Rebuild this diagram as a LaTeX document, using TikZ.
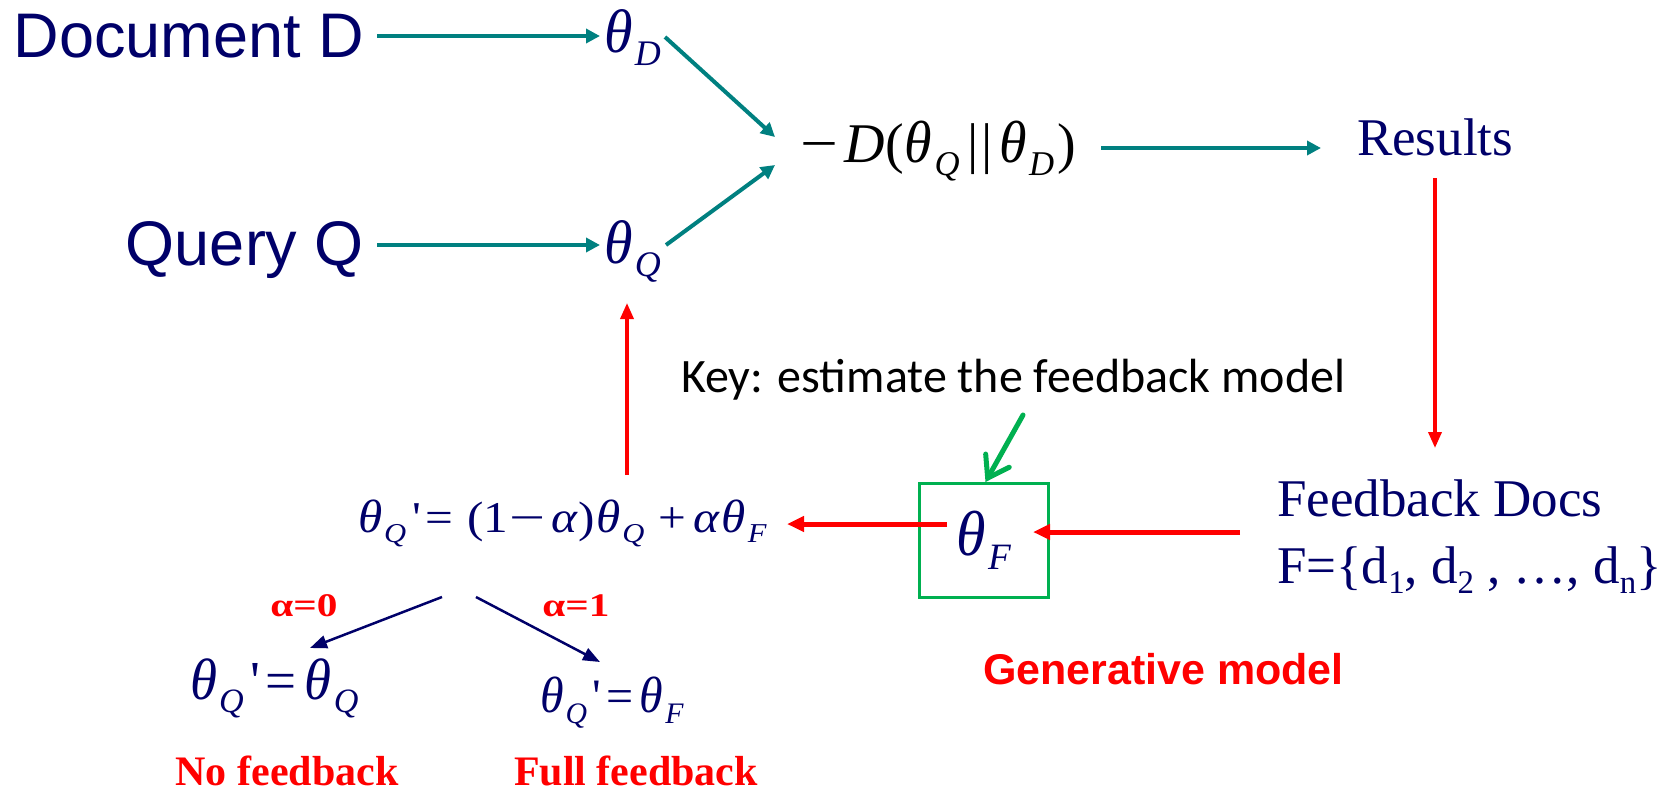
\documentclass[tikz,border=0pt]{standalone}
\usepackage{fontspec}
\setmainfont{Liberation Serif}
\newfontfamily\arialf{Liberation Sans}
\newfontfamily\calibrif{Carlito}
\usetikzlibrary{arrows.meta}
\definecolor{navyc}{RGB}{0,0,105}
\definecolor{tealc}{RGB}{0,128,128}
\definecolor{redc}{RGB}{255,0,0}
\definecolor{greenc}{RGB}{0,176,80}
\newcommand\fs[1]{\fontsize{#1}{#1}\selectfont}
\newcommand\ssub[1]{\raisebox{-0.24em}{\scalebox{0.62}{\itshape #1}}}
\newcommand\usub[1]{\raisebox{-0.2em}{\scalebox{0.62}{#1}}}
\newcommand\thg{\scalebox{1}[1.06]{\itshape θ}}
\newcommand\thx[1]{\thg\kern0.04em\ssub{#1}}
\newcommand\prm{\textquotesingle}
\newcommand\mminus{\scalebox{1.3}[1]{−}}
\begin{document}
\begin{tikzpicture}[x=1pt,y=-1pt,
  every node/.style={inner sep=0pt,outer sep=0pt},
  tarrow/.style={draw=tealc,line width=4pt,-{Triangle[length=14pt,width=14pt]}},
  rarrow/.style={draw=redc,line width=5pt,-{Triangle[length=17pt,width=15pt]}},
  rvarrow/.style={draw=redc,line width=3.5pt,-{Triangle[length=16pt,width=13pt]}},
  barrow/.style={draw=navyc,line width=2.5pt,-{Triangle[length=17pt,width=13pt]}},
  garrow/.style={draw=greenc,line width=5pt,line cap=round,-{Straight Barb[length=20pt,width=27pt,line cap=round]}},
  bigsans/.style={text=navyc,font=\arialf\fs{63}},
  serif/.style={text=navyc,font=\fs{53}},
  redbold/.style={text=redc,font=\bfseries\fs{42}}]
\useasboundingbox (0,0) rectangle (1679,793);

% top-left inputs
\node[bigsans,anchor=base east] (docD) at (364,57) {Document D};
\node[bigsans,anchor=base east] (query) at (364,265) {Query Q};
\node[text=navyc,font=\fs{58},anchor=base west] (thD) at (604,52) {\thx{D}};
\node[text=navyc,font=\fs{58},anchor=base west] (thQ) at (604,263) {\thx{Q}};

% KL expression
\node[font=\fs{56},anchor=base west] (expr) at (800,162)
  {\scalebox{1.2}[1]{−}\kern0.12em\textit{D}(\kern0.02em\thx{Q}\kern0.14em|\kern0.05em|\kern0.12em\thx{D}\kern0.06em)};
\node[serif,anchor=base west] (res) at (1357,155) {Results};

% feedback docs
\node[serif,anchor=base west] (fb) at (1277,516) {Feedback Docs};
\node[serif,anchor=base west] (fset) at (1277,583)
  {F=\{d\usub{1}, d\usub{2} , …, d\usub{n}\}};

% key label and box
\node[font=\calibrif\fs{48},anchor=base west] (key) at (681,392) {Key: estimate the feedback model};
\node[draw=greenc,line width=3pt,minimum width=129pt,minimum height=114pt,
      text=navyc,font=\fs{60}] (box) at (983.5,540) {\thx{F}};
\node[text=redc,font=\arialf\bfseries\fs{43},anchor=base west] (gen) at (983,684) {Generative model};

% update formula
\node[text=navyc,font=\fs{44},anchor=base west] (form) at (358,532)
  {\scalebox{1.12}[1]{\thx{Q}\kern0.12em\prm\kern0.1em=\kern0.28em(1\kern0.02em\mminus\kern0.12em\textit{α})\kern0.03em\thx{Q}\kern0.28em+\kern0.15em\textit{α}\kern0.03em\thx{F}}};

% special cases
\node[text=redc,font=\bfseries\fs{33},anchor=center] (a0) at (304,606) {\scalebox{1.25}[1]{α=0}};
\node[text=redc,font=\bfseries\fs{33},anchor=center] (a1) at (576,606) {\scalebox{1.25}[1]{α=1}};
\node[text=navyc,font=\fs{55},anchor=base west] (lowL) at (190,699)
  {\thx{Q}\kern0.12em\prm\kern0.1em=\kern0.14em\thx{Q}};
\node[text=navyc,font=\fs{48},anchor=base west] (lowR) at (540,712)
  {\thx{Q}\kern0.12em\prm\kern0.1em=\kern0.14em\thx{F}};
\node[redbold,anchor=base] (nofb) at (287,785) {No feedback};
\node[redbold,anchor=base] (fullfb) at (636,785) {Full feedback};

% connectors
\draw[tarrow] ([xshift=13pt,yshift=21pt]docD.base east) -- ([xshift=-4pt,yshift=16pt]thD.base west);
\draw[tarrow] ([xshift=13pt,yshift=20pt]query.base east) -- ([xshift=-4pt,yshift=18pt]thQ.base west);
\draw[tarrow] ([xshift=61pt,yshift=15pt]thD.base west) -- ([xshift=-25pt,yshift=25pt]expr.base west);
\draw[tarrow] ([xshift=62pt,yshift=18pt]thQ.base west) -- ([xshift=-25pt,yshift=-3pt]expr.base west);
\draw[tarrow] ([xshift=25pt,yshift=14pt]expr.base east) -- ([xshift=-36pt,yshift=7pt]res.base west);

\draw[rvarrow] ([xshift=78pt,yshift=-23pt]res.base west) -- ([xshift=158pt,yshift=68pt]fb.base west);
\draw[rarrow] ([xshift=-37pt,yshift=-16pt]fb.base west) -- ([xshift=-15pt,yshift=8pt]box.east);
\draw[rarrow] ([xshift=28pt,yshift=16pt]box.west) -- ([xshift=429pt,yshift=8pt]form.base west);
\draw[rvarrow] ([xshift=269pt,yshift=57pt]form.base west) -- ([xshift=23pt,yshift=-40pt]thQ.base west);
\draw[garrow] ([xshift=342pt,yshift=-23pt]key.base west) -- ([xshift=2pt,yshift=1pt]box.north);

\draw[barrow] ([xshift=84pt,yshift=-65pt]form.base west) -- ([xshift=120pt,yshift=51pt]lowL.base west);
\draw[barrow] ([xshift=118pt,yshift=-65pt]form.base west) -- ([xshift=60pt,yshift=50pt]lowR.base west);
\end{tikzpicture}
\end{document}
